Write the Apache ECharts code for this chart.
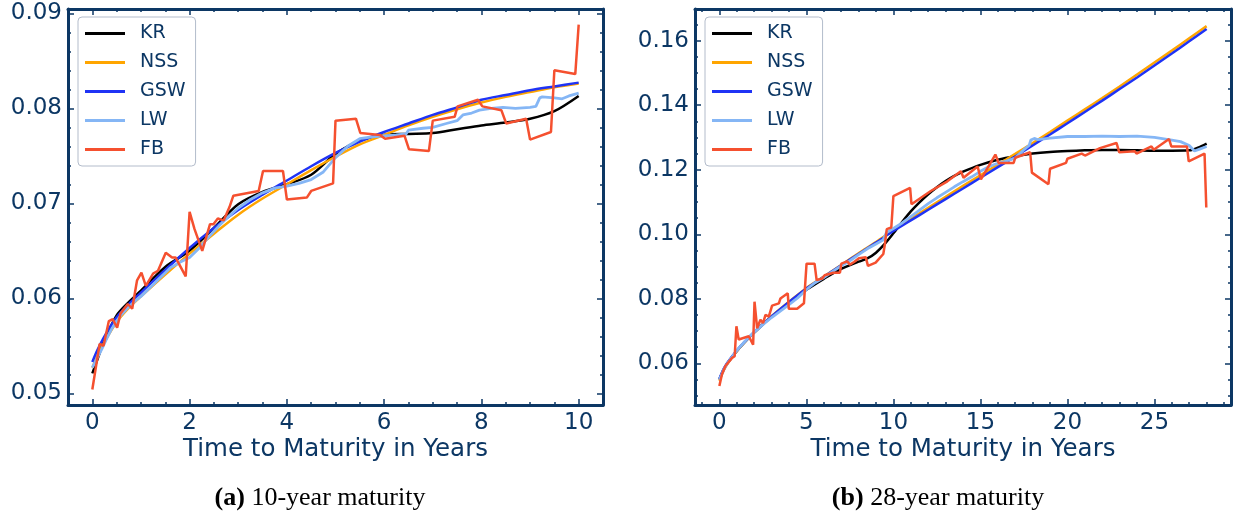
<!DOCTYPE html>
<html>
<head>
<meta charset="utf-8">
<script src="https://cdn.jsdelivr.net/npm/echarts@6/dist/echarts.min.js"></script>
<style>html,body{margin:0;padding:0;background:#fff;}#c{width:1238px;height:521px;}</style>
</head>
<body>
<div id="c"></div>
<script>
// ---------- DATA ----------
const names = ['KR', 'NSS', 'GSW', 'LW', 'FB'];

// Panel (a): 10-year maturity
const tA = [0,0.1,0.25,0.5,0.75,1,1.5,2,2.5,3,3.5,4,4.5,5,5.5,6,6.5,7,7.5,8,8.5,9,9.5,10];
const krA  = [0.0521,0.0535,0.0556,0.0582,0.0596,0.0608,0.0633,0.0650,0.0674,0.0699,0.0712,0.0720,0.0730,0.0752,0.0766,0.0772,0.0773,0.0774,0.0778,0.0782,0.0785,0.0789,0.0797,0.0813];
const nssA = [0.0527,0.0539,0.0554,0.0575,0.0590,0.0602,0.0625,0.0647,0.0668,0.0688,0.0705,0.0720,0.0735,0.0749,0.0762,0.0772,0.0782,0.0791,0.0799,0.0806,0.0812,0.0817,0.0822,0.0826];
const gswA = [0.0533,0.0545,0.0560,0.0580,0.0594,0.0606,0.0630,0.0653,0.0674,0.0693,0.0709,0.0724,0.0739,0.0753,0.0765,0.0775,0.0784,0.0793,0.0801,0.0809,0.0814,0.0819,0.0823,0.0827];
const tLwA = [0,0.1,0.2,0.3,0.4,0.5,0.6,0.75,0.9,1,1.2,1.4,1.6,1.8,2,2.2,2.4,2.6,2.8,3,3.25,3.5,3.75,4,4.25,4.5,4.75,5,5.25,5.5,5.75,6,6.25,6.45,6.5,6.8,7,7.28,7.5,7.62,7.8,7.96,8.2,8.44,8.7,9,9.12,9.2,9.25,9.5,9.66,9.8,10];
const lwA  = [0.0527,0.0537,0.0547,0.0558,0.0568,0.0576,0.0583,0.0591,0.0598,0.0602,0.0612,0.0622,0.0632,0.0638,0.0643,0.0653,0.0665,0.0676,0.0686,0.0695,0.0704,0.0711,0.0716,0.0718,0.0721,0.0725,0.0733,0.0748,0.0760,0.0768,0.0770,0.0771,0.0772,0.0773,0.0777,0.0779,0.0780,0.0784,0.0787,0.0793,0.0795,0.0798,0.0800,0.0801,0.0800,0.0801,0.0802,0.0811,0.0812,0.0811,0.0810,0.0813,0.0816];
const tFbA = [0,0.15,0.23,0.34,0.42,0.51,0.58,0.73,0.82,0.92,1.01,1.10,1.25,1.35,1.51,1.64,1.71,1.92,2.0,2.1,2.26,2.42,2.49,2.58,2.70,2.82,2.90,3.42,3.51,3.92,4.0,4.41,4.5,4.95,5.0,5.42,5.51,5.91,6.02,6.42,6.51,6.92,7.0,7.45,7.51,7.93,8.02,8.41,8.51,8.92,9.0,9.43,9.5,9.93,10.0];
const fbA  = [0.0504,0.0552,0.0550,0.0576,0.0578,0.0569,0.0584,0.0594,0.0589,0.0619,0.0627,0.0613,0.0626,0.0629,0.0648,0.0643,0.0643,0.0623,0.0691,0.0673,0.0650,0.0678,0.0678,0.0684,0.0682,0.0696,0.0708,0.0713,0.0734,0.0734,0.0704,0.0706,0.0713,0.0721,0.0787,0.0789,0.0774,0.0772,0.0768,0.0771,0.0757,0.0755,0.0787,0.0791,0.0802,0.0809,0.0802,0.0798,0.0784,0.0789,0.0767,0.0775,0.0840,0.0836,0.0888];

// Panel (b): 28-year maturity
const tB = [0,0.25,0.5,1,1.5,2,3,4,5,6,7,8,9,10,11,12,13,14,15,16,17,18,19,20,21,22,23,24,25,26,27,28];
const nssB = [0.0546,0.0579,0.0602,0.0638,0.0669,0.0697,0.0746,0.0791,0.0833,0.0869,0.0905,0.0941,0.0976,0.1013,0.1048,0.1082,0.1116,0.1150,0.1183,0.1216,0.1249,0.1283,0.1317,0.1352,0.1387,0.1422,0.1458,0.1495,0.1532,0.1569,0.1607,0.1645];
const gswB = [0.0552,0.0583,0.0605,0.0640,0.0670,0.0697,0.0745,0.0790,0.0832,0.0868,0.0904,0.0939,0.0974,0.1010,0.1043,0.1076,0.1109,0.1142,0.1175,0.1208,0.1241,0.1275,0.1309,0.1344,0.1379,0.1414,0.1450,0.1486,0.1523,0.1560,0.1598,0.1636];
const tKrB = [0,0.25,0.5,1,1.5,2,3,4,5,6,7,8,8.5,9,9.5,10,10.5,11,11.5,12,12.5,13,13.5,14,15,16,17,18,19,20,21,22,23,24,25,26,27,27.5,28];
const krB  = [0.0550,0.0581,0.0603,0.0638,0.0668,0.0695,0.0745,0.0788,0.0828,0.0862,0.0893,0.0915,0.0925,0.0943,0.0970,0.1003,0.1038,0.1071,0.1099,0.1124,0.1146,0.1165,0.1181,0.1194,0.1215,0.1231,0.1242,0.1250,0.1255,0.1258,0.1260,0.1261,0.1261,0.1260,0.1259,0.1259,0.1260,0.1268,0.1281];
const tLwB = [0,0.25,0.5,1,1.5,2,2.5,3,3.5,4,4.5,5,5.5,6,6.5,7,7.5,8,8.5,9,9.4,9.6,10,10.5,11,11.5,12,12.5,13,13.5,14,14.5,15,15.5,16,16.5,17,17.5,17.8,17.9,18.1,18.3,19,20,21,22,23,24,25,26,26.5,27,27.3,27.6,28];
const lwB  = [0.0549,0.0580,0.0603,0.0640,0.0670,0.0697,0.0720,0.0742,0.0762,0.0782,0.0803,0.0828,0.0850,0.0866,0.0884,0.0902,0.0918,0.0937,0.0955,0.0970,0.0982,0.1005,0.1018,0.1035,0.1055,0.1075,0.1095,0.1113,0.1130,0.1147,0.1163,0.1178,0.1195,0.1210,0.1220,0.1227,0.1236,0.1262,0.1275,0.1292,0.1297,0.1293,0.1298,0.1303,0.1303,0.1304,0.1303,0.1304,0.1300,0.1292,0.1287,0.1275,0.1258,0.1264,0.1272];
const tFbB = [0,0.15,0.35,0.73,0.88,0.98,1.11,1.69,1.94,2.02,2.17,2.36,2.51,2.65,2.84,3.03,3.42,3.51,3.93,3.99,4.47,4.86,5.01,5.47,5.59,5.91,6.05,6.55,6.93,7.01,7.35,7.50,7.74,8.02,8.41,8.54,8.98,9.42,9.50,9.62,9.88,10.0,10.96,11.04,12.15,13.1,13.88,14.03,14.84,15.03,15.86,16.05,16.91,17.0,17.86,17.96,18.91,19.0,19.92,20.0,20.82,21.01,21.87,22.82,22.98,23.87,23.97,24.83,24.96,25.84,25.97,26.87,26.97,27.88,27.98];
const fbB  = [0.0530,0.0566,0.0592,0.0617,0.0622,0.0715,0.0674,0.0684,0.0658,0.0791,0.0709,0.0735,0.0725,0.0750,0.0745,0.0779,0.0786,0.0801,0.0817,0.0769,0.0769,0.0786,0.0909,0.0909,0.0858,0.0863,0.0873,0.0881,0.0881,0.0909,0.0916,0.0906,0.0914,0.0926,0.0929,0.0902,0.0912,0.0939,0.0965,0.1016,0.1021,0.1118,0.1144,0.1093,0.1134,0.1164,0.1195,0.1175,0.1210,0.1170,0.1247,0.1221,0.1221,0.1237,0.1254,0.1191,0.1155,0.1203,0.1221,0.1234,0.1250,0.1244,0.1267,0.1283,0.1254,0.1257,0.1250,0.1272,0.1262,0.1295,0.1272,0.1272,0.1226,0.1250,0.1083];

// Tick labels
const xTicksA = [0, 2, 4, 6, 8, 10];
const yTicksA = [0.05, 0.06, 0.07, 0.08, 0.09];
const xTicksB = [0, 5, 10, 15, 20, 25];
const yTicksB = [0.06, 0.08, 0.10, 0.12, 0.14, 0.16];
const captions = ['10-year maturity', '28-year maturity'];
const captionTags = ['(a)', '(b)'];
const axisTitle = 'Time to Maturity in Years';

// ---------- STYLE / LAYOUT ----------
const NAVY = '#0c3764';
const FONT = 'DejaVu Sans';
const colors = {KR:'#000000', NSS:'#ffa500', GSW:'#1f33f5', LW:'#85b6f5', FB:'#f5502f'};

function minorTicks(lo, hi, step, majors) {
  const out = [];
  const n = Math.round((hi - lo) / step);
  for (let i = 0; i <= n; i++) {
    const v = +(lo + i * step).toFixed(6);
    if (!majors.some(m => Math.abs(m - v) < 1e-9)) out.push(v);
  }
  return out;
}

const panels = [
  {rect:{left:68, right:635, top:9, bottom:116}, xmin:-0.5, xmax:10.5, ymin:0.04877, ymax:0.09045,
   xMaj:xTicksA, xMin:minorTicks(-0.5, 10.5, 0.5, xTicksA), yMaj:yTicksA, yMin:minorTicks(0.048, 0.090, 0.002, yTicksA)},
  {rect:{left:695, right:7, top:9, bottom:116}, xmin:-1.4, xmax:29.4, ymin:0.0471, ymax:0.1698,
   xMaj:xTicksB, xMin:minorTicks(-1, 29, 1, xTicksB), yMaj:yTicksB, yMin:minorTicks(0.045, 0.170, 0.005, yTicksB)}
];

const grids = [], xAxes = [], yAxes = [];
// grids 0,1 = main (frame, major ticks, labels, data); grids 2,3 = minor ticks only
[0, 1].forEach(layer => {
  panels.forEach((p, pi) => {
    const gi = grids.length;
    grids.push(Object.assign({containLabel:false}, p.rect));
    const major = layer === 0;
    ['bottom', 'top'].forEach(pos => {
      xAxes.push({
        gridIndex: gi, type: 'value', position: pos, min: p.xmin, max: p.xmax,
        axisLine: {show: major, onZero: false, lineStyle: {color: NAVY, width: 3}},
        axisTick: {show: true, inside: true, length: major ? 6 : 3, customValues: major ? p.xMaj : p.xMin,
                   lineStyle: {color: NAVY, width: 1.5}},
        axisLabel: {show: major && pos === 'bottom', customValues: p.xMaj, color: NAVY, fontSize: 23,
                    fontFamily: FONT, margin: 7},
        splitLine: {show: false}
      });
    });
    ['left', 'right'].forEach(pos => {
      yAxes.push({
        gridIndex: gi, type: 'value', position: pos, min: p.ymin, max: p.ymax,
        axisLine: {show: major, onZero: false, lineStyle: {color: NAVY, width: 3}},
        axisTick: {show: true, inside: true, length: major ? 6 : 3, customValues: major ? p.yMaj : p.yMin,
                   lineStyle: {color: NAVY, width: 1.5}},
        axisLabel: {show: major && pos === 'left', customValues: p.yMaj, color: NAVY, fontSize: 23,
                    fontFamily: FONT, margin: 6, formatter: v => v.toFixed(2)},
        splitLine: {show: false}
      });
    });
  });
});

function zip(t, v) { return t.map((x, i) => [x, v[i]]); }

const seriesData = [
  {panel:0, name:'KR', data:zip(tA, krA)},
  {panel:0, name:'NSS', data:zip(tA, nssA)},
  {panel:0, name:'GSW', data:zip(tA, gswA)},
  {panel:0, name:'LW', data:zip(tLwA, lwA)},
  {panel:0, name:'FB', data:zip(tFbA, fbA)},
  {panel:1, name:'KR', data:zip(tKrB, krB)},
  {panel:1, name:'NSS', data:zip(tB, nssB)},
  {panel:1, name:'GSW', data:zip(tB, gswB)},
  {panel:1, name:'LW', data:zip(tLwB, lwB)},
  {panel:1, name:'FB', data:zip(tFbB, fbB)}
];

const series = seriesData.map(s => ({
  type: 'line', name: s.name, data: s.data,
  xAxisIndex: s.panel * 2, yAxisIndex: s.panel * 2,
  symbol: 'none', showSymbol: false, smooth: (s.name === 'KR' || s.name === 'NSS' || s.name === 'GSW') ? 0.3 : false,
  lineStyle: {color: colors[s.name], width: s.name === 'LW' ? 2.8 : 2.5},
  itemStyle: {color: colors[s.name]},
  z: 2
}));

const legendBase = {
  data: names, orient: 'vertical', top: 17, icon: 'rect', itemWidth: 40, itemHeight: 3, itemGap: 10,
  padding: [7, 10, 7, 7], borderColor: '#b3bccb', borderWidth: 1, borderRadius: 4,
  backgroundColor: 'rgba(255,255,255,0.85)', selectedMode: false,
  formatter: n => '{t|' + n + '}',
  textStyle: {color: NAVY, fontSize: 19, fontFamily: FONT, rich: {t: {padding: [0, 0, 0, 10], fontSize: 19, color: NAVY, fontFamily: FONT}}}
};

const graphic = [];
const captionCenters = [320, 938];
panels.forEach((p, i) => {
  const cx = i === 0 ? 335.5 : 963;
  graphic.push({type:'text', x: cx, y: 450, style:{text: axisTitle, fill: NAVY, fontSize: 24.5, fontFamily: FONT, align:'center', verticalAlign:'middle'}});
  graphic.push({type:'text', x: captionCenters[i], y: 498, style:{
    text: '{b|' + captionTags[i] + '} ' + captions[i], fill:'#000', fontSize: 26, fontFamily: 'Liberation Serif',
    align:'center', verticalAlign:'middle',
    rich:{b:{fontWeight:'bold', fontSize:26, fontFamily:'Liberation Serif', fill:'#000'}}
  }});
});

const chart = echarts.init(document.getElementById('c'), null, {renderer: 'canvas'});
chart.setOption({
  animation: false,
  backgroundColor: '#fff',
  grid: grids,
  xAxis: xAxes,
  yAxis: yAxes,
  legend: [Object.assign({left: 78}, legendBase), Object.assign({left: 705}, legendBase)],
  series: series,
  graphic: graphic
});
</script>
</body>
</html>
